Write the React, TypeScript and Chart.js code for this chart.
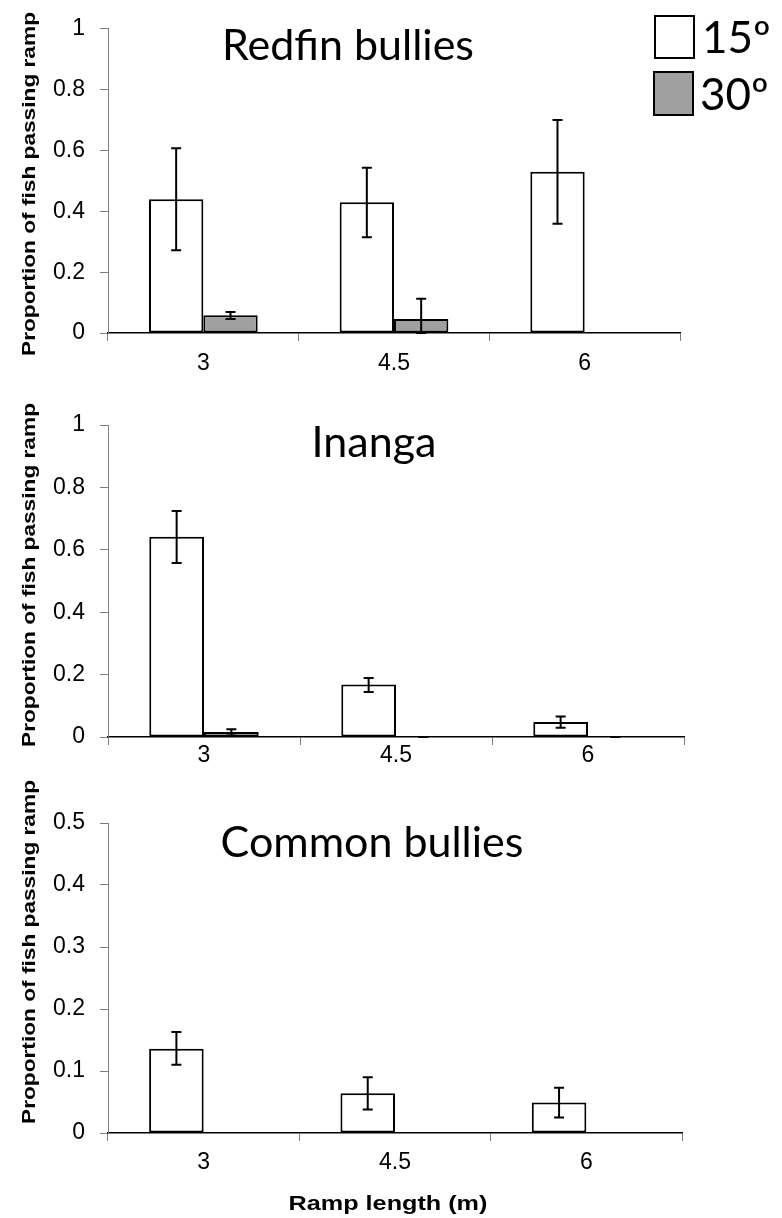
import React, { useEffect, useRef } from 'react';
import { Chart, registerables } from 'chart.js';

Chart.register(...registerables);

// ---------- data ----------
const categories = ['3', '4.5', '6'];
const legendLabels = ['15º', '30º'];
const yAxisTitle = 'Proportion of fish passing ramp';
const xAxisTitle = 'Ramp length (m)';

const redfinTitle = 'Redfin bullies';
const redfin15 = [0.44, 0.43, 0.53];
const redfin15Low = [0.272, 0.315, 0.359];
const redfin15High = [0.607, 0.543, 0.7];
const redfin30 = [0.058, 0.046, null];
const redfin30Low = [0.046, 0, null];
const redfin30High = [0.069, 0.113, null];

const inangaTitle = 'Inanga';
const inanga15 = [0.642, 0.168, 0.048];
const inanga15Low = [0.558, 0.144, 0.03];
const inanga15High = [0.724, 0.189, 0.066];
const inanga30 = [0.016, 0, 0];
const inanga30Low = [0.005, 0, 0];
const inanga30High = [0.025, 0, 0];

const commonTitle = 'Common bullies';
const common15 = [0.136, 0.064, 0.049];
const common15Low = [0.11, 0.038, 0.025];
const common15High = [0.163, 0.09, 0.073];
const common30 = [null, null, null];
const common30Low = [null, null, null];
const common30High = [null, null, null];

const yMaxMain = 1;
const yStepMain = 0.2;
const yMaxCommon = 0.5;
const yStepCommon = 0.1;

// ---------- styles / layout ----------
const W = 782;
const colors = ['#ffffff', '#a0a0a0'];
const tickFont = "'Liberation Sans', Arial, sans-serif";
const titleFont = "Lato, 'Open Sans', sans-serif";

const panels = [
  {
    key: 'redfin', title: redfinTitle,
    v15: redfin15, l15: redfin15Low, h15: redfin15High,
    v30: redfin30, l30: redfin30Low, h30: redfin30High,
    yMax: yMaxMain, yStep: yStepMain,
    top: 0, height: 390, areaTop: 25, areaBottom: 333, areaRight: 680, xPad: 9,
    titleX: 348, titleY: 60, yTitleY: 184, legend: true, xTitle: false,
  },
  {
    key: 'inanga', title: inangaTitle,
    v15: inanga15, l15: inanga15Low, h15: inanga15High,
    v30: inanga30, l30: inanga30Low, h30: inanga30High,
    yMax: yMaxMain, yStep: yStepMain,
    top: 390, height: 390, areaTop: 425, areaBottom: 737, areaRight: 684, xPad: -3,
    titleX: 374, titleY: 457, yTitleY: 575, legend: false, xTitle: false,
  },
  {
    key: 'common', title: commonTitle,
    v15: common15, l15: common15Low, h15: common15High,
    v30: common30, l30: common30Low, h30: common30High,
    yMax: yMaxCommon, yStep: yStepCommon,
    top: 780, height: 438, areaTop: 823, areaBottom: 1133, areaRight: 682, xPad: 8,
    titleX: 372, titleY: 857, yTitleY: 952, legend: false, xTitle: true,
  },
];

const errorBarsPlugin = {
  id: 'errorBars',
  afterDatasetsDraw(chart: any) {
    const ctx = chart.ctx;
    const yScale = chart.scales.y;
    ctx.save();
    ctx.strokeStyle = '#000';
    ctx.lineWidth = 2;
    chart.data.datasets.forEach((ds: any, d: number) => {
      const meta = chart.getDatasetMeta(d);
      meta.data.forEach((el: any, i: number) => {
        const lo = ds.errLow ? ds.errLow[i] : null;
        const hi = ds.errHigh ? ds.errHigh[i] : null;
        if (lo == null || hi == null || ds.data[i] == null) return;
        const x = el.x;
        const yl = yScale.getPixelForValue(lo);
        const yh = yScale.getPixelForValue(hi);
        ctx.beginPath();
        ctx.moveTo(x, yl);
        ctx.lineTo(x, yh);
        ctx.moveTo(x - 5, yl);
        ctx.lineTo(x + 5, yl);
        ctx.moveTo(x - 5, yh);
        ctx.lineTo(x + 5, yh);
        ctx.stroke();
      });
    });
    ctx.restore();
  },
};

function makeTextPlugin(p: any) {
  return {
    id: 'panelText',
    afterDraw(chart: any) {
      const ctx = chart.ctx;
      const off = p.top;
      ctx.save();
      ctx.fillStyle = '#000';
      // panel title
      ctx.font = `43px ${titleFont}`;
      ctx.textAlign = 'center';
      ctx.textBaseline = 'alphabetic';
      ctx.fillText(p.title, p.titleX, p.titleY - off);

      // y axis title
      ctx.save();
      ctx.translate(35, p.yTitleY - off);
      ctx.rotate(-Math.PI / 2);
      ctx.scale(1.26, 1);
      ctx.font = `bold 18px ${tickFont}`;
      ctx.textAlign = 'center';
      ctx.fillText(yAxisTitle, 0, 0);
      ctx.restore();

      // x axis title
      if (p.xTitle) {
        ctx.save();
        ctx.translate(388, 1210 - off);
        ctx.scale(1.2, 1);
        ctx.font = `bold 21px ${tickFont}`;
        ctx.textAlign = 'center';
        ctx.fillText(xAxisTitle, 0, 0);
        ctx.restore();
      }

      // legend
      if (p.legend) {
        const rows = [
          { x: 655, y: 16, w: 39, h: 42, tx: 702, ty: 53 },
          { x: 654, y: 72, w: 39, h: 43, tx: 700, ty: 110 },
        ];
        chart.data.datasets.forEach((ds: any, i: number) => {
          const r = rows[i];
          ctx.fillStyle = ds.backgroundColor;
          ctx.fillRect(r.x, r.y, r.w, r.h);
          ctx.strokeStyle = '#000';
          ctx.lineWidth = 2;
          ctx.strokeRect(r.x, r.y, r.w, r.h);
          ctx.fillStyle = '#000';
          ctx.font = `44px ${titleFont}`;
          ctx.textAlign = 'left';
          ctx.textBaseline = 'alphabetic';
          ctx.fillText(ds.label, r.tx, r.ty);
        });
      }
      ctx.restore();
    },
  };
}

function buildChart(canvas: HTMLCanvasElement, p: any) {
  const areaTop = p.areaTop - p.top;
  const areaBottom = p.areaBottom - p.top;
  const barCommon = {
    borderColor: '#000',
    borderWidth: 2,
    borderSkipped: false,
    barPercentage: 1,
    categoryPercentage: 0.57,
  };
  return new Chart(canvas, {
    type: 'bar',
    data: {
      labels: categories,
      datasets: [
        { label: legendLabels[0], data: p.v15, errLow: p.l15, errHigh: p.h15, backgroundColor: colors[0], ...barCommon } as any,
        { label: legendLabels[1], data: p.v30, errLow: p.l30, errHigh: p.h30, backgroundColor: colors[1], ...barCommon } as any,
      ],
    },
    options: {
      responsive: false,
      animation: false,
      devicePixelRatio: 1,
      layout: { padding: { left: 0, top: areaTop, right: W - p.areaRight, bottom: 0 } },
      plugins: {
        legend: { display: false },
        tooltip: { enabled: false },
        title: { display: false },
      },
      scales: {
        x: {
          type: 'category',
          offset: true,
          grid: { offset: true, drawOnChartArea: false, drawTicks: true, tickLength: 8, color: '#7f7f7f', lineWidth: 1 },
          border: { display: true, color: '#000', width: 1.5 },
          ticks: { color: '#000', font: { family: tickFont, size: 23 }, padding: p.xPad, maxRotation: 0, autoSkip: false },
          afterFit: (s: any) => { s.height = p.height - areaBottom; },
        },
        y: {
          min: 0,
          max: p.yMax,
          ticks: {
            stepSize: p.yStep,
            color: '#000',
            font: { family: tickFont, size: 23 },
            padding: 15,
            callback: (v: any) => String(Math.round(Number(v) * 100) / 100),
          },
          grid: { drawOnChartArea: false, drawTicks: true, tickLength: 8, color: '#7f7f7f', lineWidth: 1 },
          border: { display: true, color: '#7f7f7f', width: 1 },
          afterFit: (s: any) => { s.width = 108; },
        },
      },
    } as any,
    plugins: [errorBarsPlugin, makeTextPlugin(p)],
  });
}

function Panel({ p }: { p: any }) {
  const ref = useRef<HTMLCanvasElement | null>(null);
  useEffect(() => {
    if (!ref.current) return;
    const chart = buildChart(ref.current, p);
    return () => chart.destroy();
  }, []);
  return (
    <canvas
      ref={ref}
      width={W}
      height={p.height}
      style={{ position: 'absolute', left: 0, top: p.top, width: W, height: p.height, display: 'block' }}
    />
  );
}

export default function App() {
  return (
    <div style={{ position: 'absolute', left: 0, top: 0, width: W, height: 1218, background: '#fff', overflow: 'hidden' }}>
      {panels.map((p) => (
        <Panel key={p.key} p={p} />
      ))}
    </div>
  );
}
